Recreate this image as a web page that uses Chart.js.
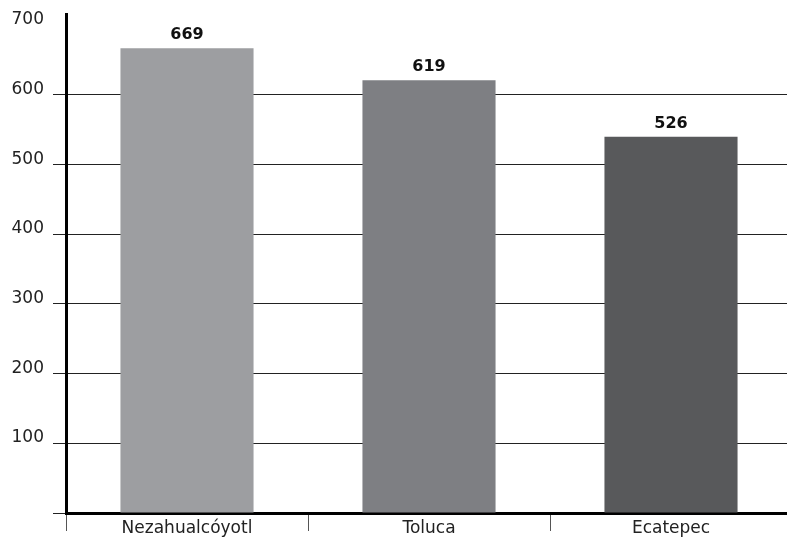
<!DOCTYPE html>
<html>
<head>
<meta charset="utf-8">
<script src="https://cdn.jsdelivr.net/npm/chart.js@4"></script>
<style>
  html, body { margin: 0; background: #fff; overflow: hidden; }
</style>
</head>
<body>
<!-- canvas runs 5px past the window so the last category edge falls off-screen, like the original -->
<canvas id="barChart" width="792" height="540"></canvas>
<script>
var categories = ['Nezahualcóyotl', 'Toluca', 'Ecatepec'];
var barValues = [667, 621, 540]; // bar heights as drawn
var valueLabels = ['669', '619', '526']; // numbers printed above the bars
var barColors = ['#9d9ea1', '#7e7f83', '#58595b'];
var yTicks = [0, 100, 200, 300, 400, 500, 600, 700];

// y tick labels sit above their gridlines, so draw them by hand
var yLabelPlugin = {
    id: 'yLabels',
    afterDraw: function (chart) {
        var ctx = chart.ctx;
        var y = chart.scales.y;
        ctx.save();
        ctx.font = '17px "DejaVu Sans"';
        ctx.fillStyle = '#222';
        ctx.textAlign = 'right';
        ctx.textBaseline = 'alphabetic';
        yTicks.forEach(function (v) {
            if (v === 0) return;
            ctx.fillText(String(v), 44, y.getPixelForValue(v) - 1);
        });
        ctx.restore();
    }
};

var valueLabelPlugin = {
    id: 'valueLabels',
    afterDatasetsDraw: function (chart) {
        var ctx = chart.ctx;
        var meta = chart.getDatasetMeta(0);
        ctx.save();
        ctx.font = 'bold 16px "DejaVu Sans"';
        ctx.fillStyle = '#111';
        ctx.textAlign = 'center';
        ctx.textBaseline = 'alphabetic';
        meta.data.forEach(function (bar, i) {
            ctx.fillText(valueLabels[i], bar.x, bar.y - 9);
        });
        ctx.restore();
    }
};

document.addEventListener('DOMContentLoaded', function () {
    var ctx = document.getElementById('barChart').getContext('2d');

    var barChart = new Chart(ctx, {
        type: 'bar',
        data: {
            labels: categories,
            datasets: [{
                data: barValues,
                backgroundColor: barColors,
                borderWidth: 0,
                categoryPercentage: 1,
                barPercentage: 0.55
            }]
        },
        options: {
            responsive: false,
            animation: false,
            layout: { padding: { top: 14, right: 0, left: 0, bottom: 0 } },
            plugins: {
                legend: { display: false },
                tooltip: { enabled: false }
            },
            scales: {
                x: {
                    grid: {
                        drawOnChartArea: false,
                        drawTicks: true,
                        tickLength: 18,
                        color: '#555',
                        lineWidth: 1
                    },
                    border: { color: '#000', width: 3 },
                    ticks: {
                        color: '#222',
                        font: { family: 'DejaVu Sans', size: 17 },
                        padding: -13
                    },
                    afterFit: function (s) { s.height = 27; }
                },
                y: {
                    min: 0,
                    max: 716,
                    afterBuildTicks: function (s) {
                        s.ticks = yTicks.map(function (v) { return { value: v }; });
                    },
                    grid: {
                        color: function (c) {
                            return c.tick && c.tick.value === 700 ? 'rgba(0,0,0,0)' : '#222';
                        },
                        lineWidth: 1,
                        tickLength: 13
                    },
                    border: { color: '#000', width: 3 },
                    ticks: { display: false },
                    afterFit: function (s) { s.width = 66; }
                }
            }
        },
        plugins: [yLabelPlugin, valueLabelPlugin]
    });
});
</script>
</body>
</html>
